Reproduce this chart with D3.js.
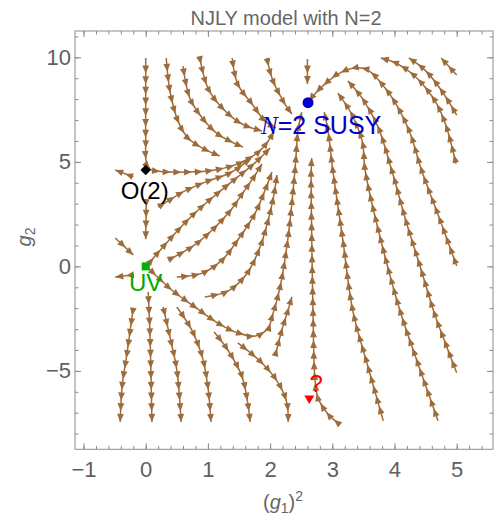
<!DOCTYPE html>
<html>
<head>
<meta charset="utf-8">
<script src="https://cdn.jsdelivr.net/npm/d3@7"></script>
<style>
  body { margin: 0; background: #fff; }
  svg { display: block; font-family: "Liberation Sans", Arial, sans-serif; }
</style>
</head>
<body>
<div id="chart"></div>
<script>
// streamlines, points are [(g1)^2, g2] listed in flow order

// coming down from the top, bending towards the SUSY point
const topInflow = [
  [[0,9.97],[0,8.0],[0,6.0],[0.01,5.0],[0.07,4.66],[0.18,4.56],[0.66,4.51],[1.11,4.61],[1.52,4.95],[1.81,5.47],[1.97,6.0],[2.06,6.45]],
  [[0.33,9.97],[0.39,8.39],[0.52,6.95],[0.68,6.14],[0.91,5.66],[1.19,5.28]],
  [[0.60,9.58],[0.71,8.05],[0.91,7.10],[1.16,6.33],[1.56,5.71]],
  [[0.87,9.97],[1.00,8.53],[1.23,7.58],[1.55,6.81],[1.87,6.48]],
  [[1.39,9.97],[1.48,8.72],[1.71,7.77],[1.92,6.95],[2.09,6.62]],
  [[1.95,9.97],[2.03,9.01],[2.21,7.91],[2.35,7.29]],
  [[2.60,9.92],[2.60,8.72]]
];

// short pieces around O(2) and UV
const axisPieces = [
  [[-0.20,4.28],[-0.49,4.61]],
  [[0.01,3.2],[0,1.3]],
  [[-0.49,1.36],[-0.20,0.55]],
  [[-0.225,-0.41],[-0.49,-0.51]]
];

// from the g1 = 0 line up to the SUSY point
const leftInflow = [
  [[0.20,2.84],[0.36,3.13],[0.63,3.61],[1.00,4.08],[1.32,4.42],[1.52,4.77],[1.68,5.18]],
  [[0.07,0.21],[0.42,1.41],[0.79,2.55],[1.16,3.51],[1.48,4.28],[1.77,4.99],[2.00,5.66]],
  [[0.36,0.31],[0.74,0.93],[1.07,1.74],[1.37,2.70],[1.56,3.51],[1.73,4.23],[1.87,4.90]],
  [[0.50,-0.51],[0.91,-0.32],[1.23,0.31],[1.48,1.26],[1.76,2.55],[1.92,3.65],[2.03,4.51]],
  [[0.95,-1.46],[1.32,-1.18],[1.61,-0.41],[1.82,0.78],[1.97,2.22],[2.06,3.41],[2.11,4.37]],
  [[0.04,-0.08],[0.42,-1.13],[0.79,-1.94],[1.16,-2.71],[1.48,-3.18],[1.76,-3.33],[1.97,-2.95],[2.03,-2.42],[2.16,-0.99],[2.29,1.41],[2.40,4.61],[2.45,6.52],[2.51,7.38]]
];

// fan going down from UV
const lowerFan = [
  [[-0.20,-1.99],[-0.30,-4.14],[-0.38,-5.76],[-0.41,-7.44]],
  [[0.04,-1.22],[0.07,-3.38],[0.10,-7.44]],
  [[0.28,-1.94],[0.39,-3.38],[0.50,-4.95],[0.57,-7.44]],
  [[0.50,-1.94],[0.74,-3.04],[0.91,-4.33],[1.00,-5.76],[1.05,-7.44]],
  [[1.10,-3.14],[1.32,-4.00],[1.55,-5.28],[1.64,-6.53],[1.68,-7.44]],
  [[1.48,-3.66],[1.87,-4.62],[2.13,-5.57],[2.27,-6.53],[2.29,-7.44]]
];

// from the lower right up to the SUSY point
const rightInflow = [
  [[2.08,-4.28],[2.19,-3.04],[2.29,-2.08],[2.35,-1.46]],
  [[3.09,-7.49],[2.93,-7.06],[2.77,-6.29],[2.72,-5.33],[2.69,-2.13],[2.67,1.26],[2.66,4.56],[2.67,5.18]],
  [[3.82,-7.39],[3.57,-4.76],[3.33,-2.13],[3.17,1.26],[3.01,4.56],[2.93,6.52],[2.87,7.38]],
  [[4.70,-7.39],[4.39,-4.76],[4.09,-2.13],[3.78,1.26],[3.53,4.56],[3.48,6.0],[3.31,7.29],[3.09,8.29]],
  [[5.00,-5.09],[4.83,-3.76],[4.65,-2.32],[4.43,-0.17],[4.18,2.22],[3.96,4.56],[3.73,6.71],[3.48,8.05],[3.25,8.87]],
  [[5.00,0.02],[4.72,2.32],[4.44,4.56],[4.25,6.38],[4.06,7.58],[3.85,8.53],[3.57,9.39],[3.36,9.49],[3.09,9.20],[2.88,8.72],[2.69,8.15],[2.63,7.91]]
];

// top right, leaving through the top
const topOutflow = [
  [[4.99,4.90],[4.92,5.76],[4.83,6.71],[4.68,7.77],[4.49,8.58],[4.27,9.25],[4.02,9.73],[3.78,9.97]],
  [[5.00,7.24],[4.75,8.44],[4.49,9.39],[4.23,9.97]],
  [[5.00,9.15],[4.75,9.97]]
];

const fixedPoints = [
  {name: "susy", g1sq: 2.61, g2: 7.83},
  {name: "o2", g1sq: 0, g2: 4.61},
  {name: "uv", g1sq: 0, g2: 0},
  {name: "unknown", g1sq: 2.63, g2: -6.37}
];

const xMajor = [-1, 0, 1, 2, 3, 4, 5];
const yMajor = [-5, 0, 5, 10];
const titleText = "NJLY model with N=2";

const width = 501, height = 518;
const frame = {left: 75, right: 493, top: 31, bottom: 449.3};
const grey = "#666";
const brown = "#9e6c3b";

const svg = d3.select("#chart").append("svg")
    .attr("width", width)
    .attr("height", height);

const x = d3.scaleLinear().domain([-1.137, 5.584]).range([frame.left, frame.right]);
const y = d3.scaleLinear().domain([-8.75, 11.26]).range([frame.bottom, frame.top]);

// frame + ticks (Mathematica style, ticks pointing in)
svg.append("rect")
    .attr("x", frame.left).attr("y", frame.top)
    .attr("width", frame.right - frame.left).attr("height", frame.bottom - frame.top)
    .attr("fill", "none").attr("stroke", "#8c8c8c").attr("stroke-width", 1);

const xMinor = d3.range(-5, 28).map(i => i / 5);
const yMinor = d3.range(-8, 12);

function addAxis(axis, tx, ty) {
    const g = svg.append("g")
        .attr("transform", "translate(" + tx + "," + ty + ")")
        .attr("color", "#8c8c8c")
        .call(axis);
    g.select(".domain").remove();
    g.selectAll("text").attr("fill", "#5f5f5f").attr("font-size", 22)
        .attr("font-family", "Liberation Sans, Arial, sans-serif");
    return g;
}

addAxis(d3.axisBottom(x).tickValues(xMajor).tickSize(-6).tickPadding(12).tickFormat(d3.format("d")), 0, frame.bottom);
addAxis(d3.axisBottom(x).tickValues(xMinor).tickSize(-3.5).tickFormat(""), 0, frame.bottom);
addAxis(d3.axisTop(x).tickValues(xMajor).tickSize(-6).tickFormat(""), 0, frame.top);
addAxis(d3.axisTop(x).tickValues(xMinor).tickSize(-3.5).tickFormat(""), 0, frame.top);
addAxis(d3.axisLeft(y).tickValues(yMajor).tickSize(-6).tickPadding(4).tickFormat(d3.format("d")), frame.left, 0);
addAxis(d3.axisLeft(y).tickValues(yMinor).tickSize(-3.5).tickFormat(""), frame.left, 0);
addAxis(d3.axisRight(y).tickValues(yMajor).tickSize(-6).tickFormat(""), frame.right, 0);
addAxis(d3.axisRight(y).tickValues(yMinor).tickSize(-3.5).tickFormat(""), frame.right, 0);

// streamlines
const line = d3.line()
    .x(d => x(d[0]))
    .y(d => y(d[1]))
    .curve(d3.curveCatmullRom.alpha(0.5));

const streams = [].concat(topInflow, axisPieces, leftInflow, lowerFan, rightInflow, topOutflow);
const gStream = svg.append("g");
const step = 10.7, headLen = 8, headHalf = 3.4;

streams.forEach(function(s) {
    const path = gStream.append("path")
        .attr("d", line(s))
        .attr("fill", "none")
        .attr("stroke", brown)
        .attr("stroke-width", 1.5);
    const node = path.node();
    const L = node.getTotalLength();
    for (let t = L; t > 5; t -= step) {
        const p = node.getPointAtLength(t);
        const q = node.getPointAtLength(Math.max(0, t - 2));
        let dx = p.x - q.x, dy = p.y - q.y;
        const n = Math.hypot(dx, dy) || 1;
        dx /= n; dy /= n;
        const bx = p.x - dx * headLen, by = p.y - dy * headLen;
        gStream.append("path")
            .attr("d", "M" + p.x + "," + p.y +
                       "L" + (bx - dy * headHalf) + "," + (by + dx * headHalf) +
                       "L" + (bx + dy * headHalf) + "," + (by - dx * headHalf) + "Z")
            .attr("fill", brown);
    }
});

// fixed points
const fp = {};
fixedPoints.forEach(d => fp[d.name] = [x(d.g1sq), y(d.g2)]);

svg.append("circle")
    .attr("cx", fp.susy[0]).attr("cy", fp.susy[1]).attr("r", 5.5)
    .attr("fill", "#0000cc");

svg.append("path")
    .attr("d", d3.symbol(d3.symbolSquare, 55)())
    .attr("transform", "translate(" + fp.o2[0] + "," + fp.o2[1] + ") rotate(45)")
    .attr("fill", "#000");

svg.append("rect")
    .attr("x", fp.uv[0] - 4).attr("y", fp.uv[1] - 4)
    .attr("width", 8).attr("height", 8)
    .attr("fill", "#00b000");

svg.append("path")
    .attr("d", "M-5,-4L5,-4L0,4.5Z")
    .attr("transform", "translate(" + fp.unknown[0] + "," + fp.unknown[1] + ")")
    .attr("fill", "#ff0000");

// labels
const susyLabel = svg.append("text")
    .attr("x", fp.susy[0] - 47).attr("y", fp.susy[1] + 31)
    .attr("font-size", 25).attr("fill", "#0000cc");
susyLabel.append("tspan").attr("font-style", "italic").attr("font-family", "Liberation Serif, serif").text("N");
susyLabel.append("tspan").text("=2 SUSY");

svg.append("text")
    .attr("x", fp.o2[0] - 1).attr("y", fp.o2[1] + 29)
    .attr("text-anchor", "middle").attr("font-size", 24).attr("fill", "#000")
    .text("O(2)");

svg.append("text")
    .attr("x", fp.uv[0]).attr("y", fp.uv[1] + 25)
    .attr("text-anchor", "middle").attr("font-size", 24).attr("fill", "#00aa00")
    .text("UV");

svg.append("text")
    .attr("x", fp.unknown[0] + 7).attr("y", fp.unknown[1] - 8)
    .attr("text-anchor", "middle").attr("font-size", 24).attr("fill", "#ff0000")
    .text("?");

// title and axis labels
svg.append("text")
    .attr("x", (frame.left + frame.right) / 2 + 2).attr("y", 25)
    .attr("text-anchor", "middle").attr("font-size", 20).attr("fill", grey)
    .text(titleText);

const xl = svg.append("text")
    .attr("x", 283).attr("y", 509)
    .attr("text-anchor", "middle").attr("font-size", 20).attr("fill", grey);
xl.append("tspan").text("(");
xl.append("tspan").attr("font-style", "italic").text("g");
xl.append("tspan").attr("font-size", 14).attr("dy", 4).text("1");
xl.append("tspan").attr("dy", -4).text(")");
xl.append("tspan").attr("font-size", 14).attr("dy", -8).text("2");

const yl = svg.append("text")
    .attr("transform", "translate(31,237) rotate(-90)")
    .attr("text-anchor", "middle").attr("font-size", 20).attr("fill", grey);
yl.append("tspan").attr("font-style", "italic").text("g");
yl.append("tspan").attr("font-size", 14).attr("dy", 4).text("2");
</script>
</body>
</html>
